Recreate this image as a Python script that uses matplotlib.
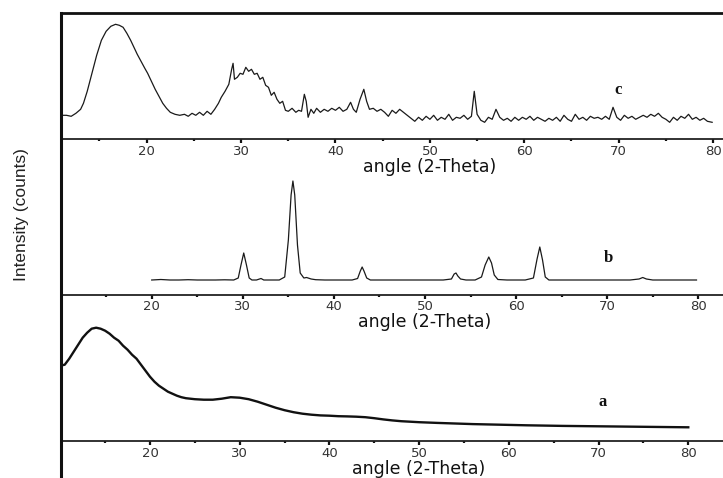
import matplotlib
matplotlib.use("Agg")
import matplotlib.pyplot as plt
from matplotlib.lines import Line2D
from matplotlib.ticker import MultipleLocator, FixedLocator

# ---------------- data (arbitrary intensity units) -------------
c_angle = [11.0, 11.5, 12.0, 12.5, 13.0, 13.3, 13.7, 14.2, 14.7, 15.2, 15.7, 16.2, 16.7, 17.1,
           17.5, 17.9, 18.3, 18.6, 19.0, 19.4, 19.8, 20.1, 20.5, 20.9, 21.3, 21.7, 22.1, 22.5,
           23.0, 23.5, 24.0, 24.4, 24.8, 25.2, 25.6, 26.0, 26.4, 26.8, 27.2, 27.6, 27.9, 28.3,
           28.7, 29.0, 29.15, 29.3, 29.6, 29.9, 30.2, 30.5, 30.8, 31.1, 31.4, 31.7, 32.0, 32.3,
           32.6, 32.9, 33.2, 33.5, 33.8, 34.1, 34.4, 34.7, 35.0, 35.4, 35.8, 36.1, 36.4, 36.7,
           36.9, 37.1, 37.4, 37.7, 38.0, 38.4, 38.8, 39.2, 39.6, 40.0, 40.4, 40.8, 41.2, 41.6,
           41.9, 42.2, 42.6, 43.0, 43.3, 43.6, 44.0, 44.4, 44.8, 45.2, 45.6, 46.0, 46.4, 46.8,
           47.2, 47.6, 48.0, 48.4, 48.8, 49.2, 49.6, 50.0, 50.4, 50.8, 51.2, 51.6, 52.0, 52.4,
           52.8, 53.2, 53.6, 54.0, 54.4, 54.7, 55.0, 55.4, 55.8, 56.2, 56.6, 57.0, 57.4, 57.8,
           58.2, 58.6, 59.0, 59.4, 59.8, 60.2, 60.6, 61.0, 61.4, 61.8, 62.2, 62.6, 63.0, 63.4,
           63.8, 64.2, 64.6, 65.0, 65.4, 65.8, 66.2, 66.6, 67.0, 67.4, 67.8, 68.2, 68.6, 69.0,
           69.4, 69.8, 70.2, 70.6, 71.0, 71.4, 71.8, 72.2, 72.6, 73.0, 73.4, 73.8, 74.2, 74.6,
           75.0, 75.4, 75.8, 76.2, 76.6, 77.0, 77.4, 77.8, 78.2, 78.6, 79.0, 79.4, 79.9]
c_intensity = [24, 24, 23, 26, 30, 36, 48, 66, 84, 99, 108, 113, 115, 114,
               112, 106, 99, 93, 85, 78, 71, 66, 58, 50, 43, 36, 31, 27,
               25, 24, 25, 23, 26, 24, 27, 24, 28, 25, 30, 36, 42, 48,
               55, 70, 76, 60, 62, 66, 65, 72, 68, 70, 65, 66, 60, 62,
               54, 52, 44, 47, 40, 36, 38, 29, 28, 31, 27, 29, 28, 45,
               38, 22, 30, 26, 31, 27, 30, 28, 31, 29, 32, 28, 30, 37,
               30, 27, 40, 50, 38, 30, 31, 28, 30, 27, 23, 29, 26, 30,
               27, 24, 21, 18, 22, 19, 23, 20, 24, 19, 22, 20, 25, 19,
               22, 21, 24, 20, 23, 48, 25, 19, 17, 22, 20, 30, 22, 19,
               21, 18, 22, 19, 22, 20, 23, 19, 22, 20, 18, 21, 19, 22,
               18, 24, 20, 18, 25, 20, 22, 19, 23, 21, 22, 20, 23, 20,
               32, 22, 19, 24, 21, 23, 20, 22, 24, 22, 25, 23, 26, 22,
               20, 17, 22, 19, 23, 21, 25, 20, 22, 19, 21, 18, 17]

b_angle = [20.0, 21.0, 22.0, 23.0, 24.0, 25.0, 26.0, 27.0, 28.0, 29.0, 29.5, 29.8, 30.1, 30.4,
           30.7, 31.0, 31.5, 32.0, 32.3, 33.0, 34.0, 34.6, 35.0, 35.3, 35.5, 35.7, 36.0, 36.3,
           36.7, 37.0, 37.5, 38.0, 39.0, 40.0, 41.0, 42.0, 42.6, 42.9, 43.1, 43.3, 43.6, 44.0,
           46.0, 48.0, 50.0, 52.0, 52.9, 53.2, 53.4, 53.6, 53.9, 54.5, 55.5, 56.2, 56.6, 57.0,
           57.3, 57.6, 58.0, 59.0, 60.0, 61.0, 61.9, 62.3, 62.6, 62.9, 63.2, 63.6, 65.0, 67.0,
           69.0, 71.0, 72.5, 73.5, 73.9, 74.3, 75.0, 77.0, 79.8]
b_intensity = [15, 15.5, 15, 15, 15.3, 15, 15, 15, 15.2, 15, 17, 30, 42, 30,
               17, 15, 15, 16.5, 15, 15, 15, 18, 55, 100, 114, 100, 50, 22,
               17, 17.5, 16, 15.3, 15, 15, 15, 15, 16.5, 24, 28, 24, 17, 15,
               15, 15, 15, 15, 16, 21, 22, 19, 16, 15, 15, 18, 30, 38,
               32, 20, 15.5, 15, 15, 15, 17, 36, 48, 35, 18, 15, 15, 15,
               15, 15, 15, 16, 17.5, 16, 15, 15, 15]

a_angle = [10.0, 10.5, 11.0, 11.5, 12.0, 12.5, 13.0, 13.5, 14.0, 14.5, 15.0, 15.5, 16.0, 16.5,
           17.0, 17.5, 18.0, 18.5, 19.0, 19.5, 20.0, 20.5, 21.0, 21.5, 22.0, 22.5, 23.0, 23.5,
           24.0, 25.0, 26.0, 27.0, 28.0, 29.0, 30.0, 31.0, 32.0, 33.0, 34.0, 35.0, 36.0, 37.0,
           38.0, 39.0, 40.0, 41.0, 42.0, 43.0, 44.0, 45.0, 46.0, 47.0, 48.0, 49.0, 50.0, 52.0,
           54.0, 56.0, 58.0, 60.0, 62.0, 64.0, 66.0, 68.0, 70.0, 72.0, 74.0, 76.0, 78.0, 80.0]
a_intensity = [75, 76, 82, 89, 96, 103, 108, 112, 113, 112, 110, 107, 103, 100,
               95, 91, 86, 82, 76, 70, 64, 59, 55, 52, 49, 47, 45, 43.5,
               42.5, 41.5, 41, 41, 42, 43.5, 43, 41.5, 39, 36, 33, 30.5, 28.5, 27,
               26, 25.3, 25, 24.5, 24.3, 24, 23.5, 22.5, 21.3, 20.3, 19.5, 19, 18.5, 17.8,
               17.2, 16.6, 16.2, 15.8, 15.4, 15.1, 14.8, 14.6, 14.4, 14.2, 14, 13.8, 13.6, 13.4]

major_ticks = [20, 30, 40, 50, 60, 70, 80]
tick_labels = ["20", "30", "40", "50", "60", "70", "80"]
x_label = "angle (2-Theta)"
y_label = "Intensity (counts)"
panel_names = ["c", "b", "a"]

# ---------------- layout ----------------
W, H = 723, 478
fig = plt.figure(figsize=(W / 100, H / 100), dpi=100)
L = 60.7 / W

def fy(py):
    return 1 - py / H

axc = fig.add_axes([L, fy(139.3), 1 - L, (139.3 - 13.3) / H])
axb = fig.add_axes([L, fy(295.0), 1 - L, (295.0 - 139.3) / H])
axa = fig.add_axes([L, fy(440.7), 1 - L, (440.7 - 295.0) / H])

# ax, x, y, xlim, ylim top (= axes px height), lw, colour, xlabel offset px, tick pad, name pos
specs = [
    (axc, c_angle, c_intensity, (10.89, 81.05), 126.0, 0.9, "#1a1a1a", 27.5, 1.0, (69.9, 49)),
    (axb, b_angle, b_intensity, (10.01, 82.71), 155.7, 0.9, "#1a1a1a", 27.0, 0.6, (70.1, 37)),
    (axa, a_angle, a_intensity, (10.05, 83.87), 145.7, 1.7, "#111111", 28.0, 1.3, (70.4, 39)),
]

for (ax, xs, ys, xl, yt, lw, col, lab_off, pad, lab_pos), name in zip(specs, panel_names):
    ax.plot(xs, ys, color=col, lw=lw, solid_joinstyle="round")
    ax.set_xlim(*xl)
    ax.set_ylim(0, yt)
    ax.patch.set_alpha(0)
    for s in ("left", "right", "top"):
        ax.spines[s].set_visible(False)
    ax.spines["bottom"].set_linewidth(1.3)
    ax.spines["bottom"].set_color("#222222")
    ax.set_yticks([])
    ax.xaxis.set_major_locator(FixedLocator(major_ticks))
    ax.set_xticklabels(tick_labels)
    ax.xaxis.set_minor_locator(MultipleLocator(5))
    ax.tick_params(axis="x", which="major", direction="out", length=3.2, width=1.6,
                   pad=pad, labelsize=9.5, labelcolor="#333333", color="#111111")
    ax.tick_params(axis="x", which="minor", direction="out", length=1.6, width=1.6,
                   color="#111111")
    for t in ax.get_xticklabels():
        t.set_fontfamily("DejaVu Sans")
    # x label, centred on angle 50
    xfrac = (50 - xl[0]) / (xl[1] - xl[0])
    ax.text(xfrac, -lab_off / yt, x_label, transform=ax.transAxes,
            ha="center", va="center", fontsize=12.5, family="DejaVu Sans", color="#111111")
    ax.text(lab_pos[0], lab_pos[1], name, ha="center", va="center", fontsize=12,
            family="Liberation Serif", fontweight="bold", color="#111111")

# top frame and continuous left frame line
fig.add_artist(Line2D([L, L], [0, fy(13.3)], transform=fig.transFigure, lw=2.2, color="#111111"))
fig.add_artist(Line2D([L, 1], [fy(13.3), fy(13.3)], transform=fig.transFigure, lw=2.0, color="#111111"))

fig.text(22 / W, fy(215), y_label, rotation=90, ha="center", va="center",
         fontsize=12.5, family="Liberation Sans", color="#222222")

fig.savefig("out.png", dpi=100)
